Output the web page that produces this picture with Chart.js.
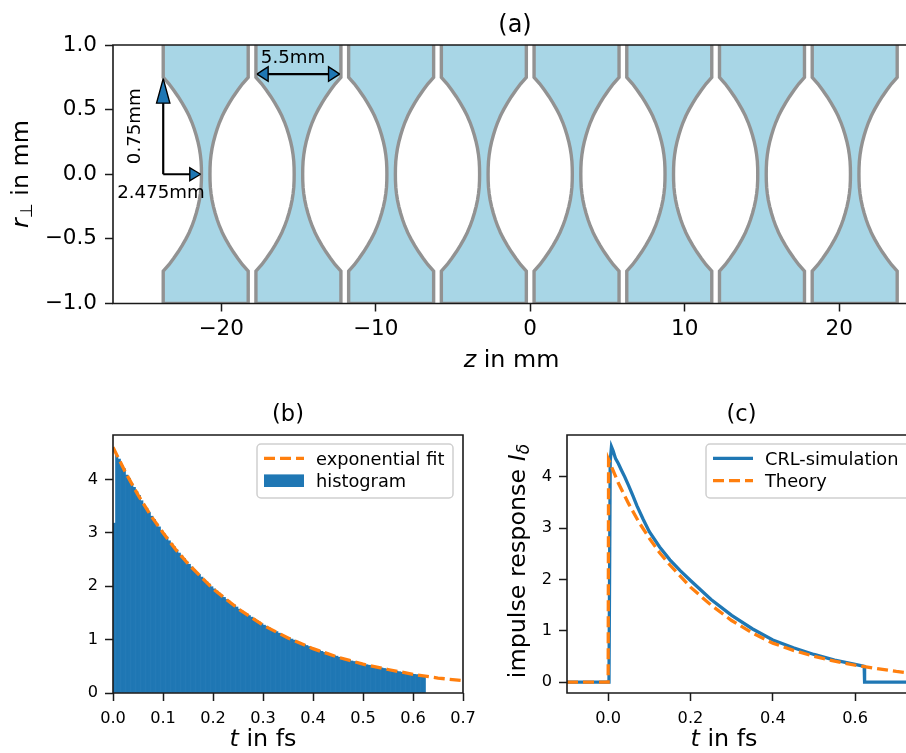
<!DOCTYPE html>
<html>
<head>
<meta charset="utf-8">
<script src="https://cdn.jsdelivr.net/npm/chart.js@4"></script>
<style>
  html, body { margin: 0; padding: 0; background: #fff; overflow: hidden; }
  .panel { position: absolute; }
</style>
</head>
<body>
<div class="panel" style="left:0px;top:0px;width:906px;height:380px"><canvas id="lens" width="906" height="380"></canvas></div>
<div class="panel" style="left:0px;top:380px;width:490px;height:373px"><canvas id="hist" width="490" height="373"></canvas></div>
<div class="panel" style="left:490px;top:380px;width:416px;height:373px"><canvas id="resp" width="416" height="373"></canvas></div>
<script>
// (a) lens stack
const lensCenters = [-21, -15, -9, -3, 3, 9, 15, 21];
const profileR = [1, 0.75, 0.7, 0.65, 0.6, 0.55, 0.5, 0.45, 0.4, 0.35, 0.3, 0.25, 0.2, 0.15, 0.1, 0.05, 0];
const profileHalf = [2.75, 2.75, 2.38, 2.07, 1.78, 1.52, 1.28, 1.07, 0.89, 0.74, 0.61, 0.5, 0.41, 0.345, 0.3, 0.28, 0.275];
const lensXTicks = [-20, -10, 0, 10, 20];
const lensYTicks = [-1, -0.5, 0, 0.5, 1];

const arrowShafts = [
  [[-23.75, 0], [-23.75, 0.6]],
  [[-23.75, 0], [-22, 0]],
  [[-17, 0.775], [-13, 0.775]],
];
const arrowHeads = [
  [[-23.75, 0.74], [-24.18, 0.55], [-23.32, 0.55]],
  [[-21.33, 0], [-22.03, 0.05], [-22.03, -0.05]],
  [[-17.68, 0.775], [-16.96, 0.831], [-16.96, 0.719]],
  [[-12.33, 0.775], [-13.05, 0.831], [-13.05, 0.719]],
];

// (b) histogram and fit
const histStep = 0.005;
const histValues = [
  3.18, 4.45, 4.38, 4.26, 4.20, 4.08, 4.02, 3.92, 3.85, 3.77, 3.70,
  3.60, 3.52, 3.46, 3.38, 3.31, 3.25, 3.17, 3.11, 3.04, 2.98,
  2.92, 2.85, 2.80, 2.74, 2.68, 2.62, 2.57, 2.52, 2.46, 2.41,
  2.36, 2.31, 2.26, 2.22, 2.17, 2.12, 2.08, 2.04, 1.99, 1.95,
  1.91, 1.87, 1.83, 1.79, 1.75, 1.72, 1.68, 1.65, 1.61, 1.57,
  1.54, 1.51, 1.48, 1.45, 1.42, 1.39, 1.36, 1.33, 1.30, 1.27,
  1.25, 1.22, 1.19, 1.17, 1.15, 1.12, 1.10, 1.08, 1.05, 1.03,
  1.01, 0.99, 0.97, 0.95, 0.93, 0.91, 0.89, 0.87, 0.85, 0.83,
  0.81, 0.80, 0.78, 0.76, 0.75, 0.73, 0.72, 0.70, 0.69, 0.67,
  0.66, 0.64, 0.63, 0.62, 0.60, 0.59, 0.58, 0.56, 0.55, 0.54,
  0.53, 0.52, 0.51, 0.50, 0.49, 0.48, 0.47, 0.46, 0.45, 0.44,
  0.43, 0.42, 0.41, 0.40, 0.39, 0.385, 0.375, 0.37, 0.36, 0.35,
  0.345, 0.335, 0.33, 0.32,
];
const fitT = [0, 0.025, 0.05, 0.075, 0.1, 0.125, 0.15, 0.2, 0.25, 0.3, 0.35, 0.4, 0.45, 0.5, 0.55, 0.6, 0.65, 0.7];
const fitY = [4.6, 4.13, 3.71, 3.33, 3.0, 2.69, 2.42, 1.95, 1.58, 1.27, 1.03, 0.83, 0.67, 0.54, 0.44, 0.35, 0.28, 0.23];
const histXTicks = [0, 0.1, 0.2, 0.3, 0.4, 0.5, 0.6, 0.7];
const histYTicks = [0, 1, 2, 3, 4];

// (c) impulse response
const simT = [-0.1, 0.002, 0.005, 0.008, 0.012, 0.018, 0.025, 0.032, 0.04, 0.05, 0.06, 0.07, 0.085, 0.1, 0.125, 0.15, 0.175, 0.2, 0.25, 0.3, 0.35, 0.4, 0.45, 0.5, 0.55, 0.6, 0.622, 0.623, 0.73];
const simY = [0, 0, 4.3, 4.58, 4.5, 4.35, 4.25, 4.13, 4.0, 3.82, 3.63, 3.43, 3.17, 2.93, 2.63, 2.38, 2.17, 1.98, 1.61, 1.3, 1.04, 0.82, 0.67, 0.54, 0.43, 0.345, 0.31, 0, 0];
const theoryT = [-0.1, 0, 0.001, 0.025, 0.05, 0.075, 0.1, 0.125, 0.15, 0.2, 0.25, 0.3, 0.35, 0.4, 0.45, 0.5, 0.55, 0.6, 0.65, 0.7, 0.73];
const theoryY = [0, 0, 4.33, 3.87, 3.47, 3.11, 2.8, 2.52, 2.28, 1.85, 1.5, 1.2, 0.96, 0.76, 0.62, 0.505, 0.41, 0.33, 0.27, 0.21, 0.18];
const respXTicks = [0, 0.2, 0.4, 0.6];
const respYTicks = [0, 1, 2, 3, 4];

const BLUE = '#1f77b4', ORANGE = '#ff7f0e', INK = '#1a1a1a';
const FONT = '"DejaVu Sans"';
const DASH = [11, 5];

const zip = (xs, ys) => xs.map((x, i) => ({ x, y: ys[i] }));
const pairs = arr => arr.map(p => ({ x: p[0], y: p[1] }));
const minus = s => String(s).replace('-', '\u2212');

function lensOutline(c) {
  const left = profileR.map((r, i) => ({ x: c - profileHalf[i], y: r }));
  const lowerLeft = profileR.slice(0, -1).reverse().map((r, i, a) => ({ x: c - profileHalf[a.length - 1 - i], y: -r }));
  const lowerRight = profileR.slice(0, -1).map((r, i) => ({ x: c + profileHalf[i], y: -r }));
  const right = profileR.slice().reverse().map((r, i, a) => ({ x: c + profileHalf[a.length - 1 - i], y: r }));
  return [...left, ...lowerLeft, ...lowerRight, ...right];
}

// write a run of differently styled bits centred on x,y
function drawRun(ctx, bits, x, y, rot) {
  ctx.save();
  ctx.translate(x, y);
  if (rot) ctx.rotate(rot);
  ctx.fillStyle = '#000';
  ctx.textBaseline = 'alphabetic';
  ctx.textAlign = 'left';
  let w = 0;
  bits.forEach(b => { ctx.font = b.font; w += ctx.measureText(b.t).width; });
  let cur = -w / 2;
  bits.forEach(b => {
    ctx.font = b.font;
    ctx.fillText(b.t, cur, b.dy || 0);
    cur += ctx.measureText(b.t).width;
  });
  ctx.restore();
}

function overlay(id, draw) {
  return { id, afterDatasetsDraw(chart) { draw(chart.ctx, chart); } };
}

function spines(sides, lw) {
  return {
    id: 'spines',
    afterDatasetsDraw(chart) {
      const { ctx, chartArea: a } = chart;
      ctx.save();
      ctx.strokeStyle = INK;
      ctx.lineWidth = lw;
      ctx.lineCap = 'square';
      ctx.beginPath();
      ctx.moveTo(a.left, a.top); ctx.lineTo(a.right, a.top);
      ctx.moveTo(a.left, a.bottom); ctx.lineTo(a.right, a.bottom);
      ctx.moveTo(a.left, a.top); ctx.lineTo(a.left, a.bottom);
      if (sides === 'all') { ctx.moveTo(a.right, a.top); ctx.lineTo(a.right, a.bottom); }
      ctx.stroke();
      ctx.restore();
    },
  };
}

function legendBox(box, items) {
  return overlay('legendBox', (ctx) => {
    ctx.save();
    ctx.strokeStyle = '#cfcfcf';
    ctx.lineWidth = 1.5;
    ctx.fillStyle = 'rgba(255,255,255,0.8)';
    ctx.beginPath();
    ctx.roundRect(box.x, box.y, box.w, box.h, 4);
    ctx.fill();
    ctx.stroke();
    items.forEach((it, i) => {
      const ly = box.y + 14.3 + i * 22.4;
      if (it.patch) {
        ctx.fillStyle = it.color;
        ctx.fillRect(box.x + 7, ly - 6.3, 40, 12.6);
      } else {
        ctx.strokeStyle = it.color;
        ctx.lineWidth = 3.3;
        ctx.setLineDash(it.dash || []);
        ctx.beginPath();
        ctx.moveTo(box.x + 7, ly);
        ctx.lineTo(box.x + 47, ly);
        ctx.stroke();
        ctx.setLineDash([]);
      }
      ctx.fillStyle = '#000';
      ctx.font = '17.8px ' + FONT;
      ctx.textBaseline = 'alphabetic';
      ctx.fillText(it.label, box.x + 59, ly + 6.5);
    });
    ctx.restore();
  });
}

function axisOpts(o) {
  return {
    type: 'linear',
    min: o.min,
    max: o.max,
    offset: false,
    afterBuildTicks(s) { s.ticks = o.ticks.map(v => ({ value: v })); },
    afterFit(s) { if (o.width) s.width = o.width; if (o.height) s.height = o.height; },
    border: { display: false },
    grid: { drawOnChartArea: false, drawTicks: true, tickLength: o.tick, tickWidth: 1.5, tickColor: INK, offset: false },
    ticks: {
      autoSkip: false, maxRotation: 0, minRotation: 0, color: '#000', padding: o.pad,
      font: { family: FONT, size: o.size },
      callback: o.fmt,
    },
  };
}

const baseOpts = {
  responsive: false,
  animation: false,
  events: [],
  plugins: { legend: { display: false }, tooltip: { enabled: false }, title: { display: false } },
};

// ----- panel (a)
// a tiny tension keeps chart.js off its per-pixel fast path, that one bends near vertical outlines
const lensSets = lensCenters.map(c => ({
  type: 'scatter',
  data: lensOutline(c),
  showLine: true,
  fill: 'shape',
  backgroundColor: '#a8d6e6',
  borderColor: '#929292',
  borderWidth: 3.4,
  pointRadius: 0,
  tension: 0.001,
  order: 3,
}));
const shaftSets = arrowShafts.map(s => ({
  type: 'scatter', data: pairs(s), showLine: true, borderColor: '#000', borderWidth: 2.2, pointRadius: 0, order: 2,
}));
const headSets = arrowHeads.map(h => ({
  type: 'scatter', data: pairs([...h, h[0]]), showLine: true, fill: 'shape', backgroundColor: BLUE,
  borderColor: '#000', borderWidth: 1.4, pointRadius: 0, tension: 0.001, order: 1,
}));

new Chart(document.getElementById('lens'), {
  type: 'scatter',
  data: { datasets: [...lensSets, ...shaftSets, ...headSets] },
  options: {
    ...baseOpts,
    layout: { padding: { top: 45, right: 0, left: 0, bottom: 0 } },
    scales: {
      x: axisOpts({ min: -27, max: 24.32, ticks: lensXTicks, tick: 8, pad: 5, size: 21.5, height: 76.5, fmt: v => minus(v) }),
      y: axisOpts({ min: -1, max: 1, ticks: lensYTicks, tick: 8, pad: 8, size: 21.5, width: 113, fmt: v => minus(v.toFixed(1)) }),
    },
  },
  plugins: [spines('open', 1.6), overlay('lensText', (ctx, chart) => {
    const sx = chart.scales.x, sy = chart.scales.y;
    const t = '18.2px ' + FONT;
    drawRun(ctx, [{ t: '(a)', font: '24px ' + FONT }], 515, 32, 0);
    drawRun(ctx, [{ t: '5.5mm', font: t }], sx.getPixelForValue(-15.35), 62.5, 0);
    drawRun(ctx, [{ t: '0.75mm', font: t }], 140, sy.getPixelForValue(0.372), -Math.PI / 2);
    drawRun(ctx, [{ t: '2.475mm', font: t }], 161, 198, 0);
    drawRun(ctx, [
      { t: 'z', font: 'italic 23.8px ' + FONT },
      { t: ' in mm', font: '23.8px ' + FONT },
    ], 511.5, 367, 0);
    drawRun(ctx, [
      { t: 'r', font: 'italic 23.8px ' + FONT },
      { t: '\u22a5', font: '17px ' + FONT, dy: 4 },
      { t: ' in mm', font: '23.8px ' + FONT },
    ], 28, 174, -Math.PI / 2);
  })],
});

// ----- panel (b)
new Chart(document.getElementById('hist'), {
  data: {
    datasets: [
      {
        type: 'line', label: 'exponential fit', data: zip(fitT, fitY), order: 1,
        borderColor: ORANGE, borderWidth: 3.3, borderDash: DASH, pointRadius: 0, tension: 0, fill: false,
      },
      {
        type: 'bar', label: 'histogram', order: 2, backgroundColor: BLUE, borderWidth: 0,
        data: histValues.map((v, i) => ({ x: (i + 0.5) * histStep, y: v })),
        barPercentage: 1, categoryPercentage: 1, grouped: false,
      },
    ],
  },
  options: {
    ...baseOpts,
    layout: { padding: { top: 55, right: 27, left: 0, bottom: 0 } },
    scales: {
      x: axisOpts({ min: 0, max: 0.7, ticks: histXTicks, tick: 8, pad: 8, size: 16.2, height: 60, fmt: v => v.toFixed(1) }),
      y: axisOpts({ min: 0, max: 4.83, ticks: histYTicks, tick: 8, pad: 7, size: 16.2, width: 113, fmt: v => String(v) }),
    },
  },
  plugins: [
    spines('all', 1.6),
    legendBox({ x: 257, y: 64, w: 196, h: 54 }, [
      { label: 'exponential fit', color: ORANGE, dash: DASH },
      { label: 'histogram', color: BLUE, patch: true },
    ]),
    overlay('histText', (ctx) => {
      drawRun(ctx, [{ t: '(b)', font: '22.5px ' + FONT }], 288, 41, 0);
      drawRun(ctx, [
        { t: 't', font: 'italic 23.8px ' + FONT },
        { t: ' in fs', font: '23.8px ' + FONT },
      ], 263, 366, 0);
    }),
  ],
});

// ----- panel (c)
new Chart(document.getElementById('resp'), {
  data: {
    datasets: [
      {
        type: 'line', label: 'CRL-simulation', data: zip(simT, simY), order: 2,
        borderColor: BLUE, borderWidth: 3.3, pointRadius: 0, tension: 0, fill: false,
      },
      {
        type: 'line', label: 'Theory', data: zip(theoryT, theoryY), order: 1,
        borderColor: ORANGE, borderWidth: 3.3, borderDash: DASH, pointRadius: 0, tension: 0, fill: false,
      },
    ],
  },
  options: {
    ...baseOpts,
    layout: { padding: { top: 55, right: 0, left: 0, bottom: 0 } },
    scales: {
      x: axisOpts({ min: -0.1, max: 0.7236, ticks: respXTicks, tick: 8, pad: 8, size: 16.2, height: 60, fmt: v => v.toFixed(1) }),
      y: axisOpts({ min: -0.21, max: 4.81, ticks: respYTicks, tick: 8, pad: 7, size: 16.2, width: 77, fmt: v => String(v) }),
    },
  },
  plugins: [
    spines('open', 1.6),
    legendBox({ x: 216, y: 64, w: 220, h: 54 }, [
      { label: 'CRL-simulation', color: BLUE },
      { label: 'Theory', color: ORANGE, dash: DASH },
    ]),
    overlay('respText', (ctx) => {
      drawRun(ctx, [{ t: '(c)', font: '22.5px ' + FONT }], 251.5, 41, 0);
      drawRun(ctx, [
        { t: 't', font: 'italic 23.8px ' + FONT },
        { t: ' in fs', font: '23.8px ' + FONT },
      ], 234, 366, 0);
      drawRun(ctx, [
        { t: 'impulse response ', font: '23.8px ' + FONT },
        { t: 'I', font: 'italic 23.8px ' + FONT },
        { t: '\u03b4', font: 'italic 17px ' + FONT, dy: 4 },
      ], 35, 181, -Math.PI / 2);
    }),
  ],
});
</script>
</body>
</html>
